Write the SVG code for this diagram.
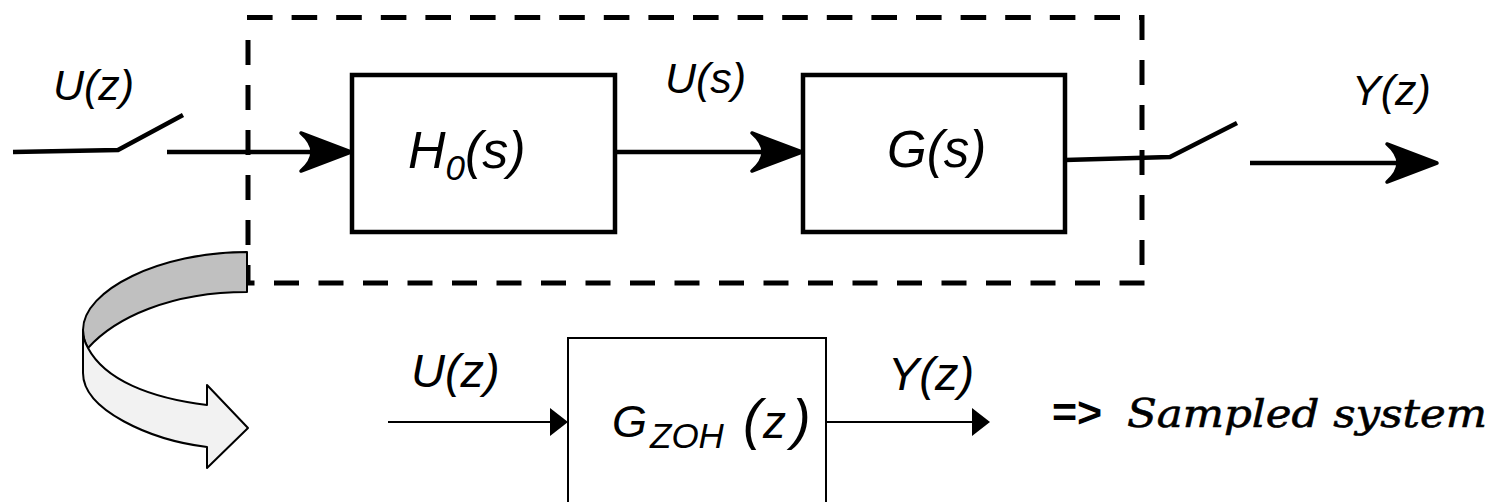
<svg xmlns="http://www.w3.org/2000/svg" width="1495" height="502" viewBox="0 0 1495 502">
  <style>
    .lbl { font-family: "Liberation Sans", Arial, sans-serif; font-style: italic; fill: #000; }
    .thick { fill: none; stroke: #000; stroke-width: 4.5; }
    .thin { fill: none; stroke: #000; stroke-width: 2; }
    .dash { fill: none; stroke: #000; stroke-width: 5; }
    .box { fill: #fff; stroke: #000; stroke-width: 4.5; }
    .box2 { fill: #fff; stroke: #000; stroke-width: 2; }
    .head { fill: #000; stroke: #000; stroke-width: 3.5; stroke-linejoin: round; }
    .tri { fill: #000; }
  </style>
  <defs>
    <!-- swept arrowhead, tip at origin, pointing right -->
    <path id="bighead" d="M0,0 L-50,-19 Q-28,0 -50,19 Z"/>
    <!-- plain triangular arrowhead, tip at origin -->
    <path id="smallhead" d="M0,0 L-18,-14 L-18,14 Z"/>
  </defs>

  <rect width="1495" height="502" fill="#fff"/>

  <!-- dashed enclosure of the continuous part -->
  <g id="enclosure">
    <path class="dash" d="M247,17.5 H1142" stroke-dasharray="25.6 19"/>
    <path class="dash" d="M1142,15 V283" stroke-dasharray="25 20"/>
    <path class="dash" d="M1144.5,283 H248" stroke-dasharray="25 19.5"/>
    <path class="dash" d="M248,40 V283" stroke-dasharray="25 20"/>
  </g>

  <!-- upper chain: sampler, hold, plant, sampler; lower equivalent chain -->
  <g id="connectors">
    <!-- input sampler -->
    <path class="thick" d="M13,152 L118,150 L183,115"/>
    <!-- sampler to hold -->
    <path class="thick" d="M167,152 H340"/>
    <use href="#bighead" class="head" transform="translate(351,152)"/>
    <!-- hold to plant -->
    <path class="thick" d="M615,152 H790"/>
    <use href="#bighead" class="head" transform="translate(802,152)"/>
    <!-- plant output through sampler -->
    <path class="thick" d="M1065,160 L1170,157 L1237,123"/>
    <!-- sampled output -->
    <path class="thick" d="M1250,163 H1425"/>
    <use href="#bighead" class="head" transform="translate(1437,163)"/>

    <!-- lower equivalent chain -->
    <path class="thin" d="M388,422 H552"/>
    <use href="#smallhead" class="tri" transform="translate(568,422)"/>
    <path class="thin" d="M827,422 H975"/>
    <use href="#smallhead" class="tri" transform="translate(990,422)"/>
  </g>

  <g id="hold">
    <rect class="box" x="352" y="75" width="263" height="157"/>
    <text class="lbl" x="408" y="168" font-size="52">H<tspan font-size="35" dy="12">0</tspan><tspan dy="-12">(s)</tspan></text>
  </g>

  <g id="plant">
    <rect class="box" x="803" y="75" width="262" height="157"/>
    <text class="lbl" x="887" y="167" font-size="51">G(s)</text>
  </g>

  <g id="zoh-equivalent">
    <rect class="box2" x="568" y="338" width="258" height="180"/>
    <text class="lbl"><tspan x="612" y="437" font-size="45">G</tspan><tspan x="650" y="448" font-size="35">ZOH</tspan> <tspan x="743" y="438" font-size="56">(</tspan><tspan x="763" y="438" font-size="46">z</tspan><tspan x="792" y="438" font-size="56">)</tspan></text>
  </g>

  <!-- signal labels -->
  <g id="labels">
    <text class="lbl" x="53" y="100" font-size="43">U(z)</text>
    <text class="lbl" x="665" y="93" font-size="43">U(s)</text>
    <text class="lbl" x="1352" y="105" font-size="43">Y(z)</text>
    <text class="lbl" x="411" y="387" font-size="47">U(z)</text>
    <text class="lbl" x="888" y="390" font-size="47">Y(z)</text>
  </g>

  <!-- curved ribbon arrow -->
  <g id="ribbon-arrow" stroke="#000" stroke-width="2" stroke-linejoin="round">
    <path fill="#c0c0c0" d="M247,252 C160,252 83,290 83,330 C83,338 85,343 88,348 C115,318 170,292 247,292 Z"/>
    <path fill="#f2f2f2" d="M83,330 L83,373 C83,410 150,440 207,447 L207,468 L248,428 L207,385 L207,405 C150,398 105,380 88,348 C85,343 83,338 83,330 Z"/>
  </g>

  <g id="conclusion">
    <text x="1052" y="427" font-family="Liberation Sans, Arial, sans-serif" font-weight="bold" font-size="43">=&gt;</text>
    <text x="1127" y="427" font-family="DejaVu Serif, serif" font-style="italic" font-size="39" stroke="#000" stroke-width="0.6" textLength="360" lengthAdjust="spacingAndGlyphs">Sampled system</text>
  </g>
</svg>
